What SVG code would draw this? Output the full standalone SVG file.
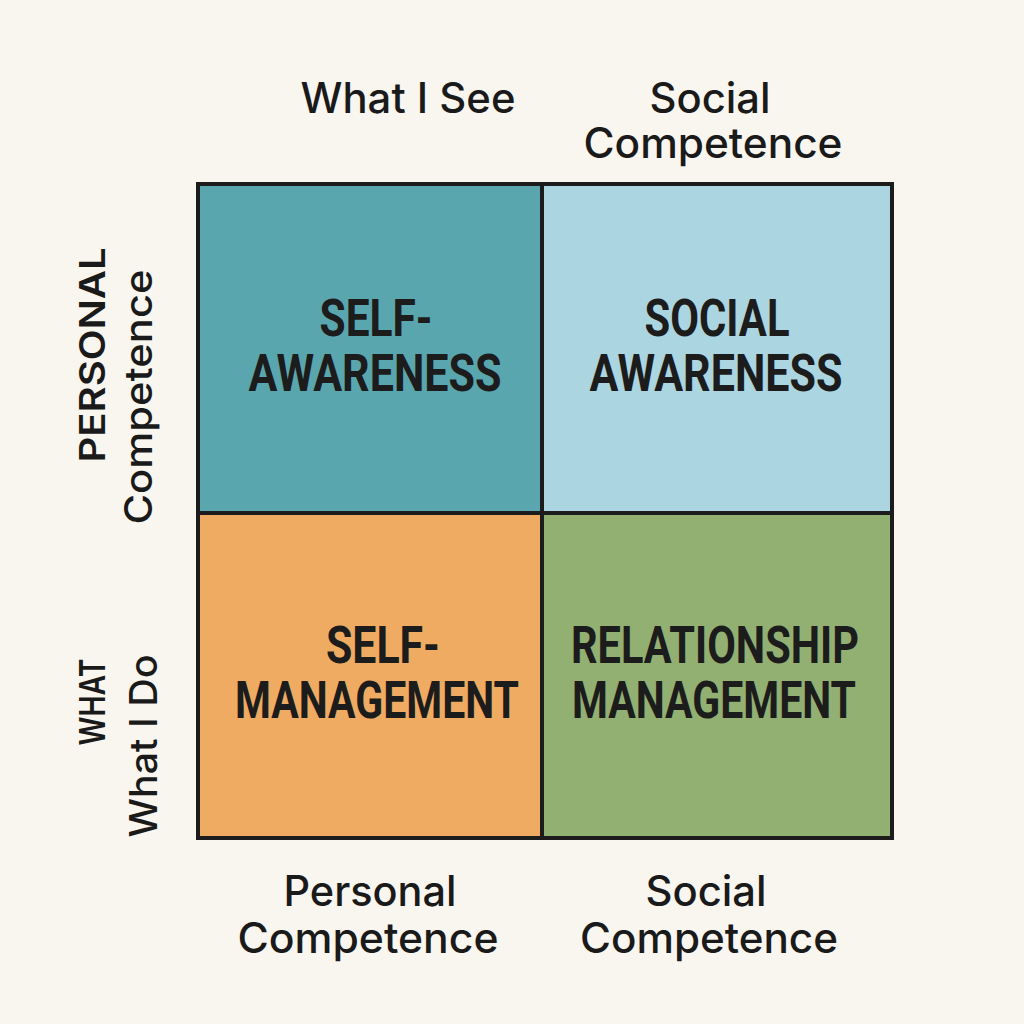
<svg xmlns="http://www.w3.org/2000/svg" width="1024" height="1024" viewBox="0 0 1024 1024">
<style>
.lbl{font-family:Inter,"Liberation Sans",Arial,sans-serif;font-weight:500;font-size:42px;fill:#1a1a1a;text-anchor:middle}
.side{font-family:Inter,"Liberation Sans",Arial,sans-serif;font-weight:500;font-size:38px;fill:#1a1a1a;text-anchor:middle}
.sideb{font-family:Inter,"Liberation Sans",Arial,sans-serif;font-weight:600;font-size:35px;fill:#1a1a1a;text-anchor:middle}
.q{font-family:Roboto,"Liberation Sans",sans-serif;font-weight:bold;font-size:51px;fill:#1c1c1c;text-anchor:middle}
.cell{stroke:#1c1c1c;stroke-width:4}
</style>
<rect width="1024" height="1024" fill="#f9f6f0"/>
<g id="top-labels">
<text class="lbl" x="408" y="113" textLength="215" lengthAdjust="spacingAndGlyphs">What I See</text>
<text class="lbl" x="710" y="113" textLength="121" lengthAdjust="spacingAndGlyphs">Social</text>
<text class="lbl" x="713" y="158" textLength="259" lengthAdjust="spacingAndGlyphs">Competence</text>
</g>
<g id="bottom-labels">
<text class="lbl" x="370" y="906" textLength="173" lengthAdjust="spacingAndGlyphs">Personal</text>
<text class="lbl" x="368" y="953" textLength="261" lengthAdjust="spacingAndGlyphs">Competence</text>
<text class="lbl" x="706" y="906" textLength="121" lengthAdjust="spacingAndGlyphs">Social</text>
<text class="lbl" x="709" y="953" textLength="258" lengthAdjust="spacingAndGlyphs">Competence</text>
</g>
<g id="side-labels">
<text class="sideb" transform="translate(105,355) rotate(-90)" textLength="215" lengthAdjust="spacingAndGlyphs">PERSONAL</text>
<text class="side" transform="translate(152,397) rotate(-90)" textLength="255" lengthAdjust="spacingAndGlyphs">Competence</text>
<text class="sideb" transform="translate(105,702) rotate(-90)" textLength="87" lengthAdjust="spacingAndGlyphs">WHAT</text>
<text class="side" transform="translate(157,746) rotate(-90)" textLength="183" lengthAdjust="spacingAndGlyphs">What I Do</text>
</g>
<g id="self-awareness">
<rect class="cell" x="198" y="184" width="344" height="329" fill="#5aa6ae"/>
<text class="q" x="376" y="336" textLength="113" lengthAdjust="spacingAndGlyphs">SELF-</text>
<text class="q" x="375" y="391" textLength="253" lengthAdjust="spacingAndGlyphs">AWARENESS</text>
</g>
<g id="social-awareness">
<rect class="cell" x="542" y="184" width="350" height="329" fill="#acd5e2"/>
<text class="q" x="717" y="336" textLength="145" lengthAdjust="spacingAndGlyphs">SOCIAL</text>
<text class="q" x="716" y="391" textLength="253" lengthAdjust="spacingAndGlyphs">AWARENESS</text>
</g>
<g id="self-management">
<rect class="cell" x="198" y="513" width="344" height="325" fill="#f0ab62"/>
<text class="q" x="383" y="663" textLength="114" lengthAdjust="spacingAndGlyphs">SELF-</text>
<text class="q" x="377" y="718" textLength="284" lengthAdjust="spacingAndGlyphs">MANAGEMENT</text>
</g>
<g id="relationship-management">
<rect class="cell" x="542" y="513" width="350" height="325" fill="#93b073"/>
<text class="q" x="715" y="663" textLength="288" lengthAdjust="spacingAndGlyphs">RELATIONSHIP</text>
<text class="q" x="714" y="718" textLength="284" lengthAdjust="spacingAndGlyphs">MANAGEMENT</text>
</g>
<g id="connectors"></g>
</svg>
